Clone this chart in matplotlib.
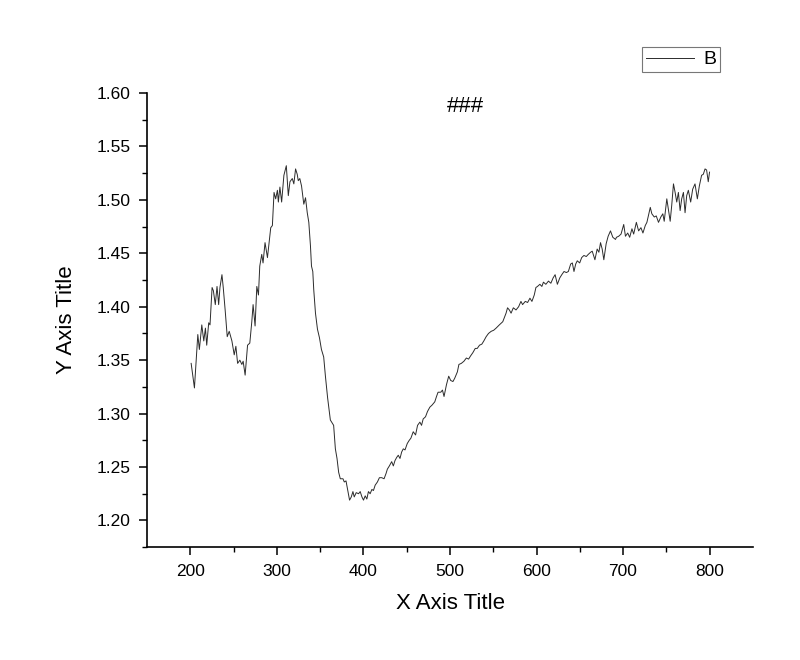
import matplotlib
matplotlib.use('Agg')
import matplotlib.pyplot as plt

plt.rcParams['font.family'] = ['Liberation Sans', 'DejaVu Sans']

# wavelength-like x values and the "B" column
x = [200.8, 204.6, 208.5, 210.3, 213.1, 215.4, 217.3, 218.8, 221.1, 222.6,
     225.0, 226.5, 228.7, 230.7, 232.6, 234.1, 236.4, 237.9, 240.2, 242.5,
     244.8, 247.9, 250.6, 252.5, 254.5, 257.1, 259.4, 260.9, 263.2, 266.0,
     268.6, 270.9, 272.4, 274.7, 276.7, 278.6, 280.1, 282.4, 283.9, 286.2,
     289.0, 290.8, 292.8, 294.7, 296.6, 298.5, 300.5, 301.6, 303.4, 305.4,
     308.0, 310.8, 313.1, 315.0, 317.7, 319.5, 321.5, 323.4, 324.6, 326.4,
     328.4, 331.0, 333.0, 335.0, 336.8, 338.7, 339.9, 341.4, 342.5, 344.5,
     346.8, 349.1, 351.4, 354.0, 356.0, 358.5, 361.7, 365.5, 367.5, 369.4,
     371.3, 373.2, 376.3, 377.8, 379.8, 381.6, 383.9, 385.9, 387.8, 389.3,
     391.6, 394.3, 396.2, 398.2, 400.0, 402.0, 403.9, 405.7, 407.7, 409.7,
     411.5, 413.5, 416.1, 418.4, 421.1, 423.8, 426.1, 427.6, 429.9, 432.6,
     434.5, 436.4, 438.4, 440.2, 442.2, 444.1, 446.0, 448.0, 450.6, 452.9,
     454.8, 457.5, 460.2, 462.5, 465.2, 467.1, 469.0, 471.7, 474.0, 476.7,
     479.3, 482.4, 484.4, 486.2, 489.3, 491.3, 493.1, 495.9, 498.5, 500.8,
     503.4, 505.4, 508.5, 510.3, 513.1, 516.1, 518.9, 521.5, 523.8, 526.4,
     529.2, 531.5, 534.1, 536.8, 539.1, 541.8, 544.5, 547.6, 550.5, 553.3,
     557.0, 561.0, 564.8, 566.5, 568.6, 570.6, 573.2, 576.3, 579.3, 582.0,
     583.9, 587.0, 589.7, 592.4, 594.7, 597.4, 599.3, 601.1, 603.9, 606.2,
     608.0, 610.8, 613.8, 616.6, 619.2, 621.5, 624.1, 626.9, 629.2, 631.8,
     634.5, 636.8, 639.5, 641.4, 643.3, 645.3, 647.1, 649.9, 652.2, 654.8,
     657.5, 659.8, 662.5, 664.4, 667.5, 670.1, 672.1, 674.0, 675.9, 677.8,
     680.5, 682.8, 685.5, 688.2, 691.3, 692.4, 695.0, 697.7, 700.8, 702.8,
     705.4, 707.7, 710.3, 712.3, 715.4, 718.0, 720.7, 723.0, 725.7, 727.6,
     731.5, 733.3, 736.1, 738.4, 741.0, 743.7, 746.0, 747.6, 750.6, 752.5,
     754.5, 756.3, 758.3, 760.2, 762.1, 764.0, 766.0, 767.8, 769.8, 771.7,
     773.6, 775.5, 778.2, 780.5, 783.2, 785.9, 788.2, 790.8, 792.8, 794.8,
     796.6, 798.5, 800.0]

b = [1.347, 1.324, 1.374, 1.360, 1.383, 1.368, 1.380, 1.364, 1.385, 1.383,
     1.418, 1.415, 1.402, 1.419, 1.402, 1.418, 1.430, 1.418, 1.396, 1.372,
     1.377, 1.368, 1.355, 1.363, 1.347, 1.350, 1.346, 1.349, 1.336, 1.364,
     1.366, 1.386, 1.402, 1.382, 1.419, 1.411, 1.438, 1.449, 1.441, 1.460,
     1.446, 1.459, 1.474, 1.476, 1.507, 1.501, 1.509, 1.498, 1.512, 1.498,
     1.523, 1.532, 1.504, 1.517, 1.520, 1.515, 1.529, 1.524, 1.518, 1.520,
     1.513, 1.496, 1.502, 1.488, 1.479, 1.457, 1.438, 1.433, 1.416, 1.394,
     1.379, 1.371, 1.360, 1.353, 1.335, 1.315, 1.294, 1.289, 1.267, 1.258,
     1.245, 1.239, 1.239, 1.236, 1.237, 1.229, 1.219, 1.222, 1.227, 1.222,
     1.226, 1.225, 1.227, 1.222, 1.219, 1.223, 1.220, 1.227, 1.225, 1.229,
     1.228, 1.233, 1.236, 1.240, 1.240, 1.239, 1.244, 1.248, 1.251, 1.255,
     1.251, 1.256, 1.259, 1.261, 1.258, 1.264, 1.267, 1.266, 1.272, 1.275,
     1.277, 1.283, 1.280, 1.289, 1.292, 1.289, 1.295, 1.297, 1.302, 1.306,
     1.308, 1.311, 1.316, 1.320, 1.320, 1.322, 1.316, 1.327, 1.335, 1.331,
     1.330, 1.333, 1.339, 1.346, 1.347, 1.349, 1.352, 1.351, 1.354, 1.357,
     1.361, 1.361, 1.364, 1.365, 1.368, 1.372, 1.375, 1.377, 1.378, 1.380,
     1.383, 1.386, 1.394, 1.399, 1.397, 1.394, 1.399, 1.397, 1.400, 1.405,
     1.402, 1.405, 1.404, 1.408, 1.405, 1.411, 1.418, 1.419, 1.421, 1.419,
     1.423, 1.421, 1.424, 1.422, 1.427, 1.430, 1.421, 1.427, 1.430, 1.433,
     1.432, 1.433, 1.440, 1.441, 1.433, 1.440, 1.443, 1.441, 1.446, 1.448,
     1.447, 1.449, 1.451, 1.452, 1.444, 1.454, 1.451, 1.460, 1.454, 1.444,
     1.459, 1.466, 1.471, 1.465, 1.463, 1.465, 1.466, 1.468, 1.477, 1.466,
     1.469, 1.465, 1.473, 1.468, 1.479, 1.471, 1.474, 1.469, 1.476, 1.479,
     1.493, 1.487, 1.484, 1.485, 1.479, 1.484, 1.487, 1.480, 1.501, 1.491,
     1.480, 1.495, 1.515, 1.507, 1.498, 1.507, 1.490, 1.501, 1.507, 1.488,
     1.504, 1.509, 1.498, 1.510, 1.515, 1.501, 1.513, 1.523, 1.524, 1.529,
     1.528, 1.517, 1.526]

x_ticks = [200, 300, 400, 500, 600, 700, 800]
y_ticks = [1.20, 1.25, 1.30, 1.35, 1.40, 1.45, 1.50, 1.55, 1.60]

fig = plt.figure(figsize=(8, 6.6), dpi=100)
ax = fig.add_axes([0.184, 0.171, 0.757, 0.688])

line, = ax.plot(x, b, color='#2b2b2b', linewidth=0.7, label='B')

ax.set_xlim(150, 850)
ax.set_ylim(1.175, 1.60)
ax.set_xticks(x_ticks)
ax.set_xticks([250, 350, 450, 550, 650, 750], minor=True)
ax.set_yticks(y_ticks)
ax.set_yticks([1.175 + 0.05 * i for i in range(9)], minor=True)
ax.set_yticklabels(['%.2f' % v for v in y_ticks])

for side in ['top', 'right']:
    ax.spines[side].set_visible(False)
for side in ['left', 'bottom']:
    ax.spines[side].set_linewidth(1.2)

ax.tick_params(which='major', direction='out', length=6, width=1.1,
               labelsize=12.5, pad=6)
ax.tick_params(which='minor', direction='out', length=3.5, width=1.0)

ax.set_xlabel('X Axis Title', fontsize=16, labelpad=10)
ax.set_ylabel('Y Axis Title', fontsize=16, labelpad=14)

ax.text(0.526, 0.971, '###', transform=ax.transAxes, ha='center',
        va='center', fontsize=16)

leg = fig.legend(handles=[line], loc='upper right',
                 bbox_to_anchor=(0.900, 0.929), frameon=True,
                 fancybox=False, fontsize=14, handlelength=2.5,
                 borderpad=0.2, handletextpad=0.45, borderaxespad=0)
leg.get_frame().set_edgecolor('#555555')
leg.get_frame().set_linewidth(0.8)

fig.savefig('out.png', dpi=100)
